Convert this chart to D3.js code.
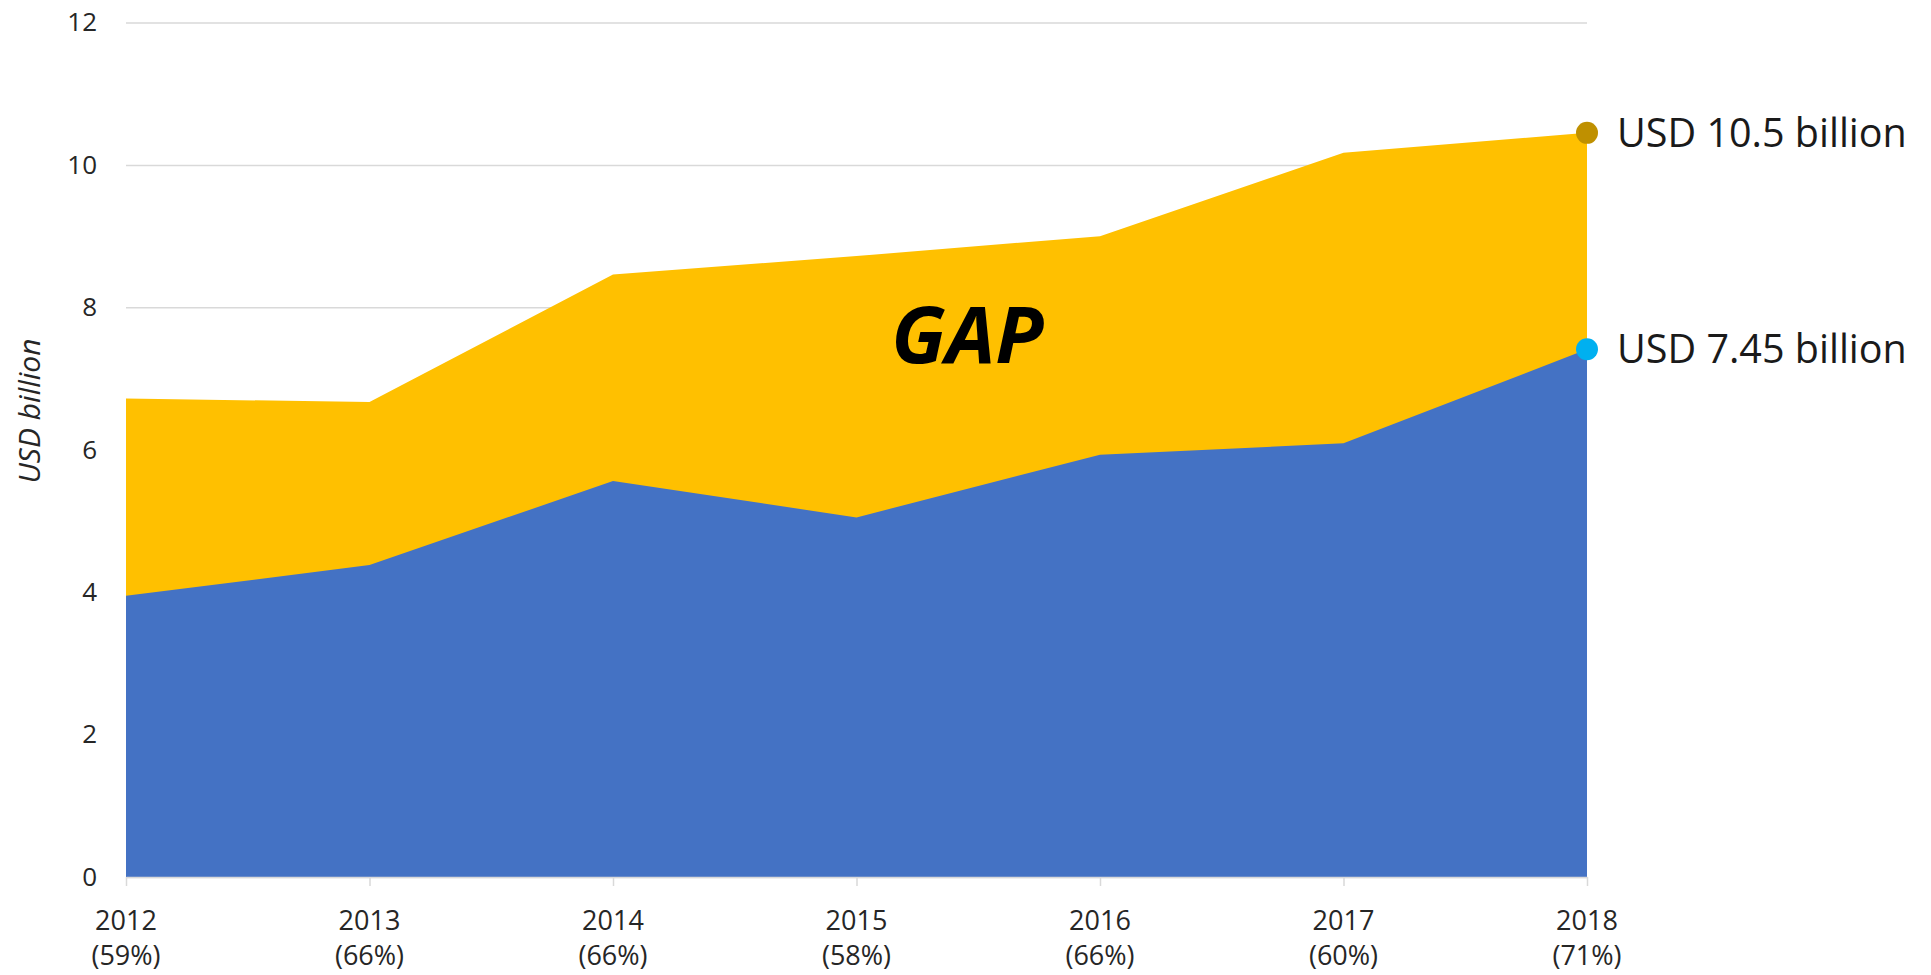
<!DOCTYPE html>
<html lang="en">
    <head>
        <meta charset="utf-8">
        <title>Funding gap</title>
        <script type="text/javascript" src="https://cdn.jsdelivr.net/npm/d3@7"></script>
        <style>
            body {margin: 0; background: #fff;}
            svg {font-family: "Open Sans", sans-serif; display: block;}
        </style>
    </head>
    <body>
        <svg width="1931" height="975"></svg>
        <script type="text/javascript">
        // data
        var years = [2012, 2013, 2014, 2015, 2016, 2017, 2018];
        var shares = ["59%", "66%", "66%", "58%", "66%", "60%", "71%"];
        var funded = [3.95, 4.38, 5.56, 5.05, 5.93, 6.09, 7.41];
        var required = [6.72, 6.67, 8.46, 8.72, 9.0, 10.17, 10.45];
        var yTicks = [0, 2, 4, 6, 8, 10, 12];
        var endLabels = ["USD 10.5 billion", "USD 7.45 billion"];

        var svg = d3.select("svg");

        var x = d3.scalePoint()
            .domain(years)
            .range([126, 1587]);

        var y = d3.scaleLinear()
            .domain([0, 12])
            .range([877, 22.5]);

        // grid + y labels
        var axeY = d3.axisLeft(y)
            .tickValues(yTicks)
            .tickSize(-(1587 - 126))
            .tickPadding(29);

        var gY = svg.append("g")
            .attr("transform", "translate(126,0)")
            .call(axeY);
        gY.select(".domain").remove();
        gY.selectAll("line").attr("stroke", "#d9d9d9").attr("stroke-width", 1.5);
        gY.selectAll("text")
            .attr("font-size", 26)
            .attr("fill", "#262626")
            .attr("font-family", "Open Sans");

        var pts = years.map(function (yr, i) {
            return {year: yr, funded: funded[i], required: required[i]};
        });

        // yellow = required total, blue = funded
        var aireTotal = d3.area()
            .x(function (d) { return x(d.year); })
            .y0(y(0))
            .y1(function (d) { return y(d.required); });

        var aireFunded = d3.area()
            .x(function (d) { return x(d.year); })
            .y0(y(0))
            .y1(function (d) { return y(d.funded); });

        svg.append("path")
            .datum(pts)
            .attr("d", aireTotal)
            .attr("fill", "#ffc000");

        svg.append("path")
            .datum(pts)
            .attr("d", aireFunded)
            .attr("fill", "#4472c4");

        // x axis
        var axeX = d3.axisBottom(x)
            .tickSizeInner(9)
            .tickSizeOuter(0)
            .tickFormat("");

        var gX = svg.append("g")
            .attr("transform", "translate(0," + y(0) + ")")
            .call(axeX);
        gX.select(".domain").attr("stroke", "#d9d9d9").attr("stroke-width", 1.5);
        gX.selectAll("line").attr("stroke", "#d9d9d9").attr("stroke-width", 1.5);

        var lab = svg.append("g")
            .selectAll("text.annee")
            .data(years)
            .enter()
            .append("text")
                .classed("annee", true)
                .attr("text-anchor", "middle")
                .attr("font-size", 27)
                .attr("fill", "#262626")
                .attr("x", function (d) { return x(d); });
        lab.append("tspan")
            .attr("x", function (d) { return x(d); })
            .attr("y", 930)
            .text(function (d) { return d; });
        lab.append("tspan")
            .attr("x", function (d) { return x(d); })
            .attr("y", 965)
            .text(function (d, i) { return "(" + shares[i] + ")"; });

        // y title
        svg.append("text")
            .attr("transform", "translate(40,411) rotate(-90)")
            .attr("text-anchor", "middle")
            .attr("font-size", 30)
            .attr("font-style", "italic")
            .attr("fill", "#262626")
            .text("USD billion");

        // GAP label, between 2015 and 2016
        var step = x.step();
        svg.append("text")
            .attr("x", x(2015) + step * 0.455)
            .attr("y", 363)
            .attr("text-anchor", "middle")
            .attr("font-size", 79)
            .attr("font-weight", "bold")
            .attr("font-style", "italic")
            .attr("fill", "#000")
            .text("GAP");

        // end markers
        var last = years.length - 1;
        var fins = [
            {v: required[last], c: "#bf9000", t: endLabels[0]},
            {v: funded[last], c: "#00b0f0", t: endLabels[1]}
        ];

        svg.selectAll("circle.fin")
            .data(fins)
            .enter()
            .append("circle")
                .classed("fin", true)
                .attr("cx", x(years[last]))
                .attr("cy", function (d) { return y(d.v); })
                .attr("r", 11)
                .attr("fill", function (d) { return d.c; });

        svg.selectAll("text.fin")
            .data(fins)
            .enter()
            .append("text")
                .classed("fin", true)
                .attr("x", x(years[last]) + 30)
                .attr("y", function (d) { return y(d.v) + 14; })
                .attr("font-size", 39.5)
                .attr("fill", "#1a1a1a")
                .text(function (d) { return d.t; });
        </script>
    </body>
</html>
